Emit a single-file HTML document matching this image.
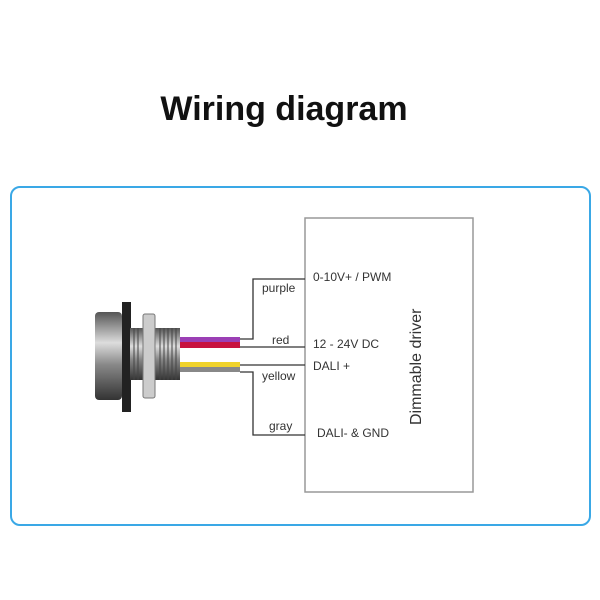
<!DOCTYPE html>
<html><head><style>
body{margin:0;width:600px;height:600px;background:#fff;position:relative;font-family:"Liberation Sans",sans-serif;overflow:hidden}
</style></head><body>
<div style="position:absolute;left:0;width:568px;top:90px;text-align:center;font-size:34px;font-weight:bold;color:#111">Wiring diagram</div>
<div style="position:absolute;left:10px;top:186px;width:577px;height:336px;border:2px solid #3aa8e6;border-radius:10px"></div>
<svg width="600" height="600" style="position:absolute;left:0;top:0" font-family="Liberation Sans, sans-serif" font-size="12" fill="#333">
<defs>
<linearGradient id="g" x1="0" y1="0" x2="0" y2="1">
<stop offset="0" stop-color="#555"/><stop offset="0.35" stop-color="#ddd"/><stop offset="0.6" stop-color="#888"/><stop offset="1" stop-color="#333"/>
</linearGradient>
</defs>
<rect x="305" y="218" width="168" height="274" fill="#fff" stroke="#999" stroke-width="1.5"/>
<rect x="95" y="312" width="27" height="88" rx="4" fill="url(#g)"/>
<rect x="122" y="302" width="9" height="110" fill="#222"/>
<rect x="130" y="328" width="50" height="52" fill="url(#g)"/>
<g stroke="#444" stroke-width="1">
<line x1="160" y1="328" x2="160" y2="380"/><line x1="164" y1="328" x2="164" y2="380"/><line x1="168" y1="328" x2="168" y2="380"/><line x1="172" y1="328" x2="172" y2="380"/><line x1="176" y1="328" x2="176" y2="380"/><line x1="134" y1="328" x2="134" y2="380"/><line x1="138" y1="328" x2="138" y2="380"/>
</g>
<rect x="143" y="314" width="12" height="84" rx="2" fill="#ccc" stroke="#777"/>
<rect x="180" y="337" width="60" height="5" fill="#9b3fb5"/>
<rect x="180" y="342" width="60" height="6" fill="#c8123f"/>
<rect x="180" y="362" width="60" height="5" fill="#f0d22a"/>
<rect x="180" y="367" width="60" height="5" fill="#888"/>
<g stroke="#333" stroke-width="1.3" fill="none">
<polyline points="240,339 253,339 253,279 305,279"/>
<line x1="240" y1="347" x2="305" y2="347"/>
<line x1="240" y1="365" x2="305" y2="365"/>
<polyline points="240,372 253,372 253,435 305,435"/>
</g>
<text x="262" y="292">purple</text>
<text x="272" y="344">red</text>
<text x="262" y="380">yellow</text>
<text x="269" y="430">gray</text>
<text x="313" y="281" font-size="12">0-10V+ / PWM</text>
<text x="313" y="348">12 - 24V DC</text>
<text x="313" y="370">DALI +</text>
<text x="317" y="437">DALI- &amp; GND</text>
<text transform="translate(421,425) rotate(-90)" font-size="16">Dimmable driver</text>
</svg>
</body></html>
